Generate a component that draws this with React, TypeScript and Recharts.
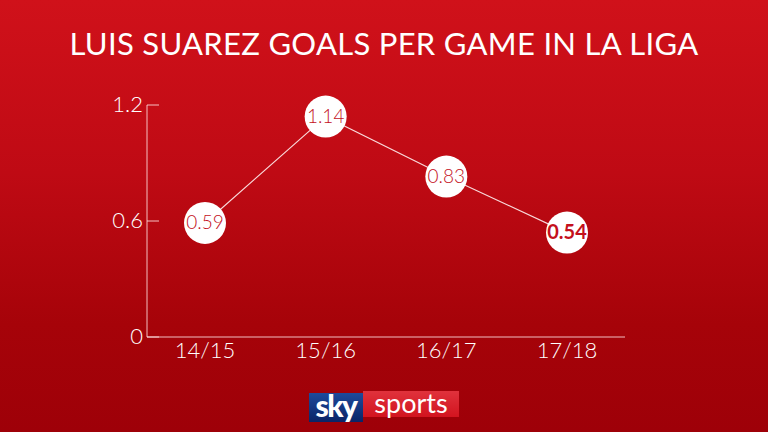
import React from 'react';
import { LineChart, Line, XAxis, YAxis } from 'recharts';

const seasons = ['14/15', '15/16', '16/17', '17/18'];
const goalsPerGame = [0.59, 1.14, 0.83, 0.54];
const yTicks = [0, 0.6, 1.2];
const title = 'LUIS SUAREZ GOALS PER GAME IN LA LIGA';

const data = seasons.map((s, i) => ({ season: s, value: goalsPerGame[i] }));

const FONT = 'Lato, "Open Sans", sans-serif';
const AXIS = 'rgba(255,225,225,0.85)';

const YTick = (props: any) => {
  const { x, y, payload } = props;
  return (
    <g>
      <line x1={x + 4} y1={y} x2={x + 16} y2={y} stroke={AXIS} strokeWidth={1} />
      <text x={x} y={y} dy={7} textAnchor="end" fill="#fff" fontSize={22} fontFamily={FONT} fontWeight={300}>
        {payload.value === 0 ? '0' : String(payload.value)}
      </text>
    </g>
  );
};

const XTick = (props: any) => {
  const { x, y, payload } = props;
  return (
    <text x={x} y={y} dy={17} textAnchor="middle" fill="#fff" fontSize={22} fontFamily={FONT} fontWeight={300}>
      {payload.value}
    </text>
  );
};

const Dot = (props: any) => {
  const { cx, cy, index, payload } = props;
  const last = index === data.length - 1;
  return (
    <g key={`d${index}`}>
      <circle cx={cx} cy={cy} r={21} fill="#fff" />
      <text x={cx} y={cy} dy={6.5} textAnchor="middle" fill="#c4101c" fontSize={last ? 20 : 19}
        fontWeight={last ? 700 : 300} fontFamily={FONT}>
        {payload.value.toFixed(2)}
      </text>
    </g>
  );
};

export default function App() {
  return (
    <div style={{ position: 'absolute', left: 0, top: 0, width: 768, height: 432, overflow: 'hidden',
      background: 'linear-gradient(180deg, #d0111a 0%, #bf0a14 40%, #a60309 75%, #9e0008 100%)' }}>
      <div style={{ position: 'absolute', left: 0, top: 25, width: 768, textAlign: 'center', color: '#fff',
        fontFamily: FONT, fontSize: 31, letterSpacing: 0.3, lineHeight: '36px' }}>{title}</div>
      <div style={{ position: 'absolute', left: 0, top: 0 }}>
        <LineChart width={768} height={432} data={data} margin={{ top: 105, right: 143, bottom: 65, left: 0 }}>
          <YAxis domain={[0, 1.2]} ticks={yTicks} width={147} tickSize={0} tickMargin={4}
            stroke={AXIS} tickLine={false} tick={<YTick />} />
          <XAxis dataKey="season" padding={{ left: 58, right: 58 }} height={30} tickSize={0} tickMargin={4}
            stroke={AXIS} tickLine={false} tick={<XTick />} />
          <Line type="linear" dataKey="value" stroke="rgba(255,240,240,0.9)" strokeWidth={1.2}
            dot={<Dot />} activeDot={false} isAnimationActive={false} />
        </LineChart>
      </div>
      <div style={{ position: 'absolute', left: 309, top: 393, width: 54, height: 29,
        background: 'linear-gradient(180deg, #1d4a9c 0%, #0b2466 100%)', display: 'flex', alignItems: 'center',
        justifyContent: 'center', color: '#fff', fontFamily: FONT, fontWeight: 900, fontSize: 30, letterSpacing: -1.5 }}>
        <span style={{ marginTop: -5 }}>sky</span>
      </div>
      <div style={{ position: 'absolute', left: 363, top: 391, width: 96, height: 26,
        background: 'linear-gradient(180deg, #e0323c 0%, #d2141f 100%)', display: 'flex', alignItems: 'center',
        justifyContent: 'center', color: '#fff', fontFamily: FONT, fontSize: 27 }}>
        <span style={{ marginTop: -4 }}>sports</span>
      </div>
    </div>
  );
}
